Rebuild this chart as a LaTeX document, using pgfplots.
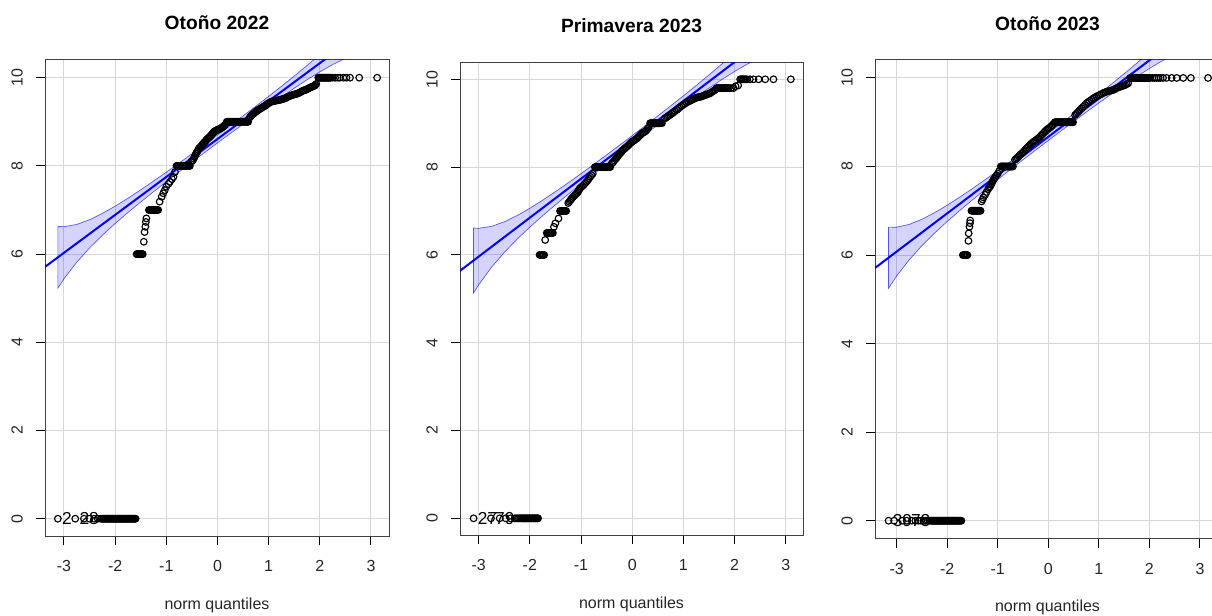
\documentclass[border=0pt]{standalone}
\usepackage{pgfplots}
\pgfplotsset{compat=1.18}
\usepackage{fontspec}
\setmainfont{Liberation Sans}
\definecolor{gridc}{RGB}{215,215,215}

\tikzset{idlab/.style={anchor=west, inner sep=0pt, xshift=3pt, font=\fontsize{13}{15}\selectfont}}
\pgfplotsset{
 qq/.style={
  scale only axis,
  anchor=south west,
  xtick={-3,-2,-1,0,1,2,3},
  xticklabels={-3,-2,-1,0,1,2,3},
  ytick={0,2,4,6,8,10},
  yticklabels={0,2,4,6,8,10},
  tick align=outside,
  xtick pos=left, ytick pos=left,
  major tick length=7pt,
  major tick style={black, line width=0.75pt},
  grid=major,
  major grid style={gridc, line width=0.75pt},
  axis line style={black!75, line width=0.75pt},
  tick label style={font=\fontsize{12}{14}\selectfont, text=black!85},
  xticklabel style={anchor=center, yshift=-15.75pt},
  yticklabel style={xshift=-14pt, rotate=90, anchor=center},
  xlabel={norm quantiles},
  xlabel style={font=\fontsize{12}{14}\selectfont, text=black!85, at={(axis description cs:0.5,0)}, anchor=center, yshift=-52pt},
  title style={font=\fontsize{14.4}{17}\selectfont\bfseries, at={(axis description cs:0.5,1)}, anchor=center, yshift=21pt},
 },
 pts/.style={only marks, mark=o, color=black, mark size=2.5pt, mark options={line width=0.85pt}},
 band/.style={draw=blue, draw opacity=0.65, line width=0.5pt, fill=blue, fill opacity=0.17},
 qqline/.style={blue, line width=1.5pt},
}

\begin{document}
\begin{tikzpicture}
\useasboundingbox (0,0) rectangle (909pt,461.25pt);
\clip (0,0) rectangle (909pt,461.25pt);

% ---------------- Otoño 2022 ----------------
\begin{axis}[qq, at={(33.75pt,59.25pt)}, width=258pt, height=357.75pt,
  xmin=-3.371, xmax=3.352, ymin=-0.392, ymax=10.424, title={Otoño 2022}]
\addplot[pts] coordinates {
(-3.12,0) (-2.78,0) (-2.61,0) (-2.50,0) (-2.41,0) (-2.34,0) (-2.28,0) (-2.24,0) (-2.20,0) (-2.17,0) (-2.14,0) (-2.11,0) (-2.08,0) (-2.05,0) (-2.02,0) (-1.99,0) (-1.96,0) (-1.93,0) (-1.90,0) (-1.87,0) (-1.84,0) (-1.81,0) (-1.78,0) (-1.75,0) (-1.72,0) (-1.69,0) (-1.66,0) (-1.63,0) (-1.60,0)
(-1.58,6) (-1.555,6) (-1.53,6) (-1.505,6) (-1.48,6) (-1.46,6)
(-1.44,6.28) (-1.425,6.5) (-1.41,6.62) (-1.40,6.73) (-1.39,6.81)
(-1.34,7) (-1.31,7) (-1.28,7) (-1.25,7) (-1.22,7) (-1.19,7) (-1.16,7)
(-1.13,7.19) (-1.09,7.30) (-1.06,7.38) (-1.03,7.45) (-1.00,7.53) (-0.96,7.59) (-0.93,7.64) (-0.89,7.70) (-0.86,7.75) (-0.83,7.86)
(-0.80,8) (-0.77,8) (-0.74,8) (-0.71,8) (-0.68,8) (-0.65,8) (-0.62,8) (-0.59,8) (-0.56,8) (-0.54,8)
(-0.51,8.10) (-0.48,8.13) (-0.45,8.2) (-0.42,8.28) (-0.39,8.33) (-0.36,8.4) (-0.33,8.43) (-0.30,8.47) (-0.27,8.52) (-0.24,8.55) (-0.21,8.6) (-0.18,8.63) (-0.15,8.66) (-0.12,8.7) (-0.09,8.74) (-0.06,8.78) (-0.03,8.8) (0.00,8.82) (0.03,8.83) (0.06,8.85) (0.09,8.87) (0.12,8.9) (0.15,8.93)
(0.18,9) (0.21,9) (0.24,9) (0.27,9) (0.30,9) (0.33,9) (0.36,9) (0.39,9) (0.42,9) (0.45,9) (0.48,9) (0.51,9) (0.54,9) (0.57,9) (0.60,9)
(0.63,9.1) (0.67,9.15) (0.70,9.18) (0.74,9.22) (0.77,9.25) (0.80,9.27) (0.84,9.3) (0.88,9.33) (0.93,9.36) (0.97,9.4) (1.01,9.43) (1.06,9.46) (1.10,9.47) (1.14,9.48) (1.19,9.49) (1.23,9.5) (1.28,9.52) (1.32,9.53) (1.36,9.56) (1.40,9.58) (1.45,9.6) (1.50,9.62) (1.54,9.63) (1.58,9.65) (1.62,9.67) (1.66,9.7) (1.70,9.72) (1.74,9.73) (1.78,9.76) (1.82,9.78) (1.86,9.8) (1.90,9.82) (1.93,9.86)
(1.97,10) (2.00,10) (2.03,10) (2.06,10) (2.09,10) (2.12,10) (2.15,10) (2.18,10) (2.21,10) (2.25,10) (2.30,10) (2.35,10) (2.39,10) (2.46,10) (2.52,10) (2.59,10) (2.77,10) (3.12,10)
};
\addplot[pts] coordinates {
(-2.26,0)(-2.22,0)(-2.185,0)(-2.155,0)(-2.125,0)(-2.095,0)(-2.065,0)(-2.035,0)(-2.005,0)(-1.975,0)(-1.945,0)(-1.915,0)(-1.885,0)(-1.855,0)(-1.825,0)(-1.795,0)(-1.765,0)(-1.735,0)(-1.705,0)(-1.675,0)(-1.645,0)(-1.615,0)
(-1.57,6)(-1.54,6)(-1.52,6)(-1.49,6)(-1.47,6)
(-1.325,7)(-1.295,7)(-1.265,7)(-1.235,7)(-1.205,7)(-1.175,7)
(-0.785,8)(-0.755,8)(-0.725,8)(-0.695,8)(-0.665,8)(-0.635,8)(-0.605,8)(-0.575,8)(-0.55,8)
(-0.495,8.115)(-0.465,8.165)(-0.435,8.24)(-0.405,8.305)(-0.375,8.365)(-0.345,8.415)(-0.315,8.45)(-0.285,8.495)(-0.255,8.535)(-0.225,8.575)(-0.195,8.615)(-0.165,8.645)(-0.135,8.68)(-0.105,8.72)(-0.075,8.76)(-0.045,8.79)(-0.015,8.81)(0.015,8.825)(0.045,8.84)(0.075,8.86)(0.105,8.885)(0.135,8.915)
(0.195,9)(0.225,9)(0.255,9)(0.285,9)(0.315,9)(0.345,9)(0.375,9)(0.405,9)(0.435,9)(0.465,9)(0.495,9)(0.525,9)(0.555,9)(0.585,9)
(0.65,9.125)(0.685,9.165)(0.72,9.2)(0.755,9.235)(0.785,9.26)(0.82,9.285)(0.86,9.315)(0.905,9.345)(0.95,9.38)(0.99,9.415)(1.035,9.445)(1.08,9.465)(1.12,9.475)(1.165,9.485)(1.21,9.495)(1.255,9.51)(1.30,9.525)(1.34,9.545)(1.38,9.57)(1.425,9.59)(1.475,9.61)(1.52,9.625)(1.56,9.64)(1.60,9.66)(1.64,9.685)(1.68,9.71)(1.72,9.725)(1.76,9.745)(1.80,9.77)(1.84,9.79)(1.88,9.81)(1.915,9.84)
(1.985,10)(2.015,10)(2.045,10)(2.075,10)(2.105,10)(2.135,10)(2.165,10)(2.195,10)
};
\addplot[band] coordinates {
(-3.12,6.627) (-3,6.622) (-2.75,6.673) (-2.5,6.780) (-2.25,6.922) (-2,7.087) (-1.75,7.267) (-1.5,7.458) (-1.25,7.655) (-1,7.858) (-0.75,8.064) (-0.5,8.274) (-0.25,8.486) (0,8.700) (0.25,8.916) (0.5,9.134) (0.75,9.354) (1,9.578) (1.25,9.805) (1.5,10.038) (1.75,10.277) (2,10.527) (2.25,10.792) (2.5,11.080) (2.75,11.403) (3,11.782) (3.12,11.993)
(3.12,10.593) (3,10.599) (2.75,10.547) (2.5,10.440) (2.25,10.298) (2,10.133) (1.75,9.953) (1.5,9.762) (1.25,9.565) (1,9.362) (0.75,9.156) (0.5,8.946) (0.25,8.735) (0,8.521) (-0.25,8.305) (-0.5,8.086) (-0.75,7.866) (-1,7.642) (-1.25,7.415) (-1.5,7.182) (-1.75,6.943) (-2,6.693) (-2.25,6.428) (-2.5,6.140) (-2.75,5.817) (-3,5.439) (-3.12,5.227)
} -- cycle;
\addplot[qqline] coordinates {(-3.5,5.60) (3.5,11.62)};
\node[idlab] at (axis cs:-3.12,0) {2};
\node[idlab] at (axis cs:-2.78,0) {28};
\end{axis}

% ---------------- Primavera 2023 ----------------
\begin{axis}[qq, at={(345pt,60pt)}, width=257.25pt, height=354.75pt,
  xmin=-3.365, xmax=3.338, ymin=-0.380, ymax=10.394, title={Primavera 2023}]
\addplot[pts] coordinates {
(-3.10,0) (-2.76,0) (-2.59,0) (-2.47,0) (-2.38,0) (-2.30,0) (-2.24,0) (-2.19,0) (-2.15,0) (-2.11,0) (-2.07,0) (-2.03,0) (-1.99,0) (-1.95,0) (-1.91,0) (-1.87,0) (-1.84,0)
(-1.81,6) (-1.78,6) (-1.75,6) (-1.72,6)
(-1.70,6.34)
(-1.67,6.5) (-1.64,6.5) (-1.61,6.5) (-1.58,6.5) (-1.55,6.5)
(-1.53,6.64) (-1.50,6.72) (-1.44,6.83)
(-1.41,7) (-1.38,7) (-1.35,7) (-1.32,7) (-1.29,7)
(-1.25,7.18) (-1.21,7.24) (-1.18,7.29) (-1.13,7.35) (-1.085,7.40) (-1.05,7.46) (-1.02,7.52) (-0.97,7.57) (-0.92,7.63) (-0.87,7.7) (-0.82,7.78) (-0.77,7.85)
(-0.73,8) (-0.70,8) (-0.67,8) (-0.64,8) (-0.61,8) (-0.58,8) (-0.55,8) (-0.52,8) (-0.49,8) (-0.46,8) (-0.43,8)
(-0.40,8.08) (-0.37,8.12) (-0.33,8.18) (-0.30,8.22) (-0.27,8.27) (-0.23,8.32) (-0.19,8.38) (-0.14,8.43) (-0.09,8.48) (-0.04,8.54) (0.00,8.58) (0.04,8.61) (0.09,8.65) (0.14,8.71) (0.19,8.77) (0.24,8.8) (0.28,8.84) (0.32,8.9)
(0.35,9) (0.38,9) (0.41,9) (0.44,9) (0.47,9) (0.50,9) (0.53,9) (0.56,9) (0.58,9)
(0.64,9.11) (0.69,9.15) (0.74,9.19) (0.80,9.24) (0.87,9.3) (0.93,9.36) (1.00,9.42) (1.06,9.47) (1.13,9.51) (1.18,9.54) (1.23,9.57) (1.28,9.59) (1.33,9.6) (1.38,9.62) (1.42,9.64) (1.47,9.66) (1.52,9.68) (1.57,9.72) (1.62,9.76)
(1.65,9.8) (1.69,9.8) (1.73,9.8) (1.77,9.8) (1.81,9.8) (1.85,9.8) (1.89,9.8) (1.93,9.8) (1.98,9.8)
(2.02,9.84) (2.07,9.86)
(2.11,10) (2.15,10) (2.19,10) (2.24,10) (2.30,10) (2.37,10) (2.47,10) (2.60,10) (2.76,10) (3.10,10)
};
\addplot[pts] coordinates {
(-2.27,0)(-2.215,0)(-2.17,0)(-2.13,0)(-2.09,0)(-2.05,0)(-2.01,0)(-1.97,0)(-1.93,0)(-1.89,0)(-1.855,0)
(-1.795,6)(-1.765,6)(-1.735,6)
(-1.655,6.5)(-1.625,6.5)(-1.595,6.5)(-1.565,6.5)
(-1.395,7)(-1.365,7)(-1.335,7)(-1.305,7)
(-1.23,7.21)(-1.195,7.265)(-1.155,7.32)(-1.11,7.375)(-1.065,7.43)(-1.035,7.49)(-0.995,7.545)(-0.945,7.6)(-0.895,7.665)(-0.845,7.74)(-0.795,7.815)
(-0.715,8)(-0.685,8)(-0.655,8)(-0.625,8)(-0.595,8)(-0.565,8)(-0.535,8)(-0.505,8)(-0.475,8)(-0.445,8)
(-0.385,8.1)(-0.35,8.15)(-0.315,8.2)(-0.285,8.245)(-0.25,8.295)(-0.21,8.35)(-0.165,8.405)(-0.115,8.455)(-0.065,8.51)(-0.02,8.56)(0.02,8.595)(0.065,8.63)(0.115,8.68)(0.165,8.74)(0.215,8.785)(0.26,8.82)(0.30,8.87)
(0.365,9)(0.395,9)(0.425,9)(0.455,9)(0.485,9)(0.515,9)(0.545,9)
(0.665,9.13)(0.715,9.17)(0.77,9.215)(0.835,9.27)(0.90,9.33)(0.965,9.39)(1.03,9.445)(1.095,9.49)(1.155,9.525)(1.205,9.555)(1.255,9.58)(1.305,9.595)(1.355,9.61)(1.40,9.63)(1.445,9.65)(1.495,9.67)(1.545,9.70)(1.595,9.74)
(1.67,9.8)(1.71,9.8)(1.75,9.8)(1.79,9.8)(1.83,9.8)(1.87,9.8)
(2.13,10)(2.17,10)(2.215,10)
};
\addplot[band] coordinates {
(-3.10,6.613) (-3,6.606) (-2.75,6.650) (-2.5,6.753) (-2.25,6.896) (-2,7.063) (-1.75,7.246) (-1.5,7.441) (-1.25,7.643) (-1,7.851) (-0.75,8.064) (-0.5,8.279) (-0.25,8.497) (0,8.717) (0.25,8.940) (0.5,9.165) (0.75,9.393) (1,9.623) (1.25,9.858) (1.5,10.099) (1.75,10.347) (2,10.607) (2.25,10.883) (2.5,11.183) (2.75,11.523) (3,11.922) (3.10,12.106)
(3.10,10.627) (3,10.634) (2.75,10.591) (2.5,10.487) (2.25,10.345) (2,10.177) (1.75,9.994) (1.5,9.799) (1.25,9.597) (1,9.389) (0.75,9.177) (0.5,8.961) (0.25,8.743) (0,8.523) (-0.25,8.300) (-0.5,8.075) (-0.75,7.848) (-1,7.617) (-1.25,7.382) (-1.5,7.141) (-1.75,6.893) (-2,6.633) (-2.25,6.358) (-2.5,6.057) (-2.75,5.718) (-3,5.318) (-3.10,5.134)
} -- cycle;
\addplot[qqline] coordinates {(-3.5,5.519) (3.5,11.721)};
\node[idlab] at (axis cs:-3.10,0) {27};
\node[idlab] at (axis cs:-2.76,0) {79};
\end{axis}

% ---------------- Otoño 2023 ----------------
\begin{axis}[qq, at={(656.25pt,57.5pt)}, width=258.75pt, height=359.25pt,
  xmin=-3.428, xmax=3.397, ymin=-0.398, ymax=10.42, title={Otoño 2023}]
\addplot[pts] coordinates {
(-3.16,0) (-3.05,0) (-2.89,0) (-2.80,0) (-2.70,0) (-2.63,0) (-2.57,0) (-2.52,0) (-2.47,0) (-2.43,0) (-2.39,0) (-2.35,0) (-2.32,0) (-2.29,0) (-2.26,0) (-2.23,0) (-2.20,0) (-2.17,0) (-2.14,0) (-2.11,0) (-2.08,0) (-2.05,0) (-2.02,0) (-1.99,0) (-1.96,0) (-1.93,0) (-1.90,0) (-1.87,0) (-1.84,0) (-1.81,0) (-1.78,0) (-1.75,0) (-1.72,0)
(-1.69,6) (-1.66,6) (-1.63,6) (-1.60,6)
(-1.58,6.32) (-1.575,6.49) (-1.56,6.64) (-1.55,6.72) (-1.545,6.78)
(-1.52,7) (-1.49,7) (-1.46,7) (-1.43,7) (-1.40,7) (-1.37,7) (-1.34,7)
(-1.32,7.21) (-1.285,7.30) (-1.25,7.36) (-1.19,7.49) (-1.15,7.55) (-1.12,7.62) (-1.09,7.69) (-1.05,7.76) (-1.0,7.84)
(-0.94,8) (-0.91,8) (-0.88,8) (-0.85,8) (-0.82,8) (-0.79,8) (-0.76,8) (-0.73,8) (-0.70,8)
(-0.66,8.15) (-0.61,8.2) (-0.56,8.26) (-0.51,8.31) (-0.46,8.37) (-0.41,8.43) (-0.36,8.49) (-0.31,8.54) (-0.265,8.58) (-0.215,8.62) (-0.165,8.67) (-0.115,8.73) (-0.066,8.79) (-0.02,8.84) (0.03,8.88) (0.08,8.93)
(0.13,9) (0.16,9) (0.19,9) (0.22,9) (0.25,9) (0.28,9) (0.31,9) (0.34,9) (0.37,9) (0.40,9) (0.43,9) (0.46,9) (0.49,9)
(0.53,9.16) (0.58,9.22) (0.63,9.28) (0.69,9.35) (0.76,9.43) (0.82,9.48) (0.89,9.54) (0.95,9.58) (1.02,9.62) (1.09,9.66) (1.155,9.69) (1.22,9.71) (1.29,9.73) (1.35,9.77) (1.42,9.8) (1.47,9.82) (1.52,9.84) (1.58,9.88)
(1.62,10) (1.65,10) (1.68,10) (1.71,10) (1.74,10) (1.77,10) (1.80,10) (1.83,10) (1.86,10) (1.89,10) (1.92,10) (1.95,10) (1.98,10) (2.01,10) (2.06,10) (2.10,10) (2.14,10) (2.18,10) (2.22,10) (2.27,10) (2.34,10) (2.44,10) (2.54,10) (2.67,10) (2.82,10) (3.16,10)
};
\addplot[pts] coordinates {
(-2.305,0)(-2.275,0)(-2.245,0)(-2.215,0)(-2.185,0)(-2.155,0)(-2.125,0)(-2.095,0)(-2.065,0)(-2.035,0)(-2.005,0)(-1.975,0)(-1.945,0)(-1.915,0)(-1.885,0)(-1.855,0)(-1.825,0)(-1.795,0)(-1.765,0)(-1.735,0)
(-1.675,6)(-1.645,6)(-1.615,6)
(-1.505,7)(-1.475,7)(-1.445,7)(-1.415,7)(-1.385,7)(-1.355,7)
(-1.30,7.255)(-1.22,7.425)(-1.17,7.52)(-1.135,7.585)(-1.105,7.655)(-1.07,7.725)(-1.025,7.80)(-0.97,7.9)
(-0.925,8)(-0.895,8)(-0.865,8)(-0.835,8)(-0.805,8)(-0.775,8)(-0.745,8)(-0.715,8)
(-0.635,8.175)(-0.585,8.23)(-0.535,8.285)(-0.485,8.34)(-0.435,8.4)(-0.385,8.46)(-0.335,8.515)(-0.29,8.56)(-0.24,8.6)(-0.19,8.645)(-0.14,8.7)(-0.09,8.76)(-0.043,8.815)(0.005,8.86)(0.055,8.905)(0.105,8.965)
(0.145,9)(0.175,9)(0.205,9)(0.235,9)(0.265,9)(0.295,9)(0.325,9)(0.355,9)(0.385,9)(0.415,9)(0.445,9)(0.475,9)
(0.555,9.19)(0.605,9.25)(0.66,9.315)(0.725,9.39)(0.79,9.455)(0.855,9.51)(0.92,9.56)(0.985,9.6)(1.055,9.64)(1.12,9.675)(1.19,9.70)(1.255,9.72)(1.32,9.75)(1.385,9.785)(1.445,9.81)(1.495,9.83)(1.55,9.86)
(1.635,10)(1.665,10)(1.695,10)(1.725,10)(1.755,10)(1.785,10)(1.815,10)(1.845,10)(1.875,10)(1.905,10)(1.935,10)(1.965,10)(1.995,10)
};
\addplot[band] coordinates {
(-3.16,6.630) (-3,6.629) (-2.75,6.693) (-2.5,6.808) (-2.25,6.956) (-2,7.126) (-1.75,7.309) (-1.5,7.502) (-1.25,7.702) (-1,7.906) (-0.75,8.114) (-0.5,8.325) (-0.25,8.538) (0,8.753) (0.25,8.970) (0.5,9.189) (0.75,9.410) (1,9.634) (1.25,9.862) (1.5,10.094) (1.75,10.333) (2,10.582) (2.25,10.844) (2.5,11.128) (2.75,11.445) (3,11.813) (3.16,12.090)
(3.16,10.710) (3,10.711) (2.75,10.647) (2.5,10.532) (2.25,10.384) (2,10.214) (1.75,10.031) (1.5,9.838) (1.25,9.638) (1,9.434) (0.75,9.226) (0.5,9.015) (0.25,8.802) (0,8.587) (-0.25,8.370) (-0.5,8.151) (-0.75,7.930) (-1,7.706) (-1.25,7.478) (-1.5,7.246) (-1.75,7.007) (-2,6.758) (-2.25,6.496) (-2.5,6.212) (-2.75,5.895) (-3,5.527) (-3.16,5.250)
} -- cycle;
\addplot[qqline] coordinates {(-3.5,5.646) (3.5,11.694)};
\node[idlab] at (axis cs:-3.16,0) {39};
\node[idlab] at (axis cs:-2.80,0) {73};
\end{axis}
\end{tikzpicture}
\end{document}
